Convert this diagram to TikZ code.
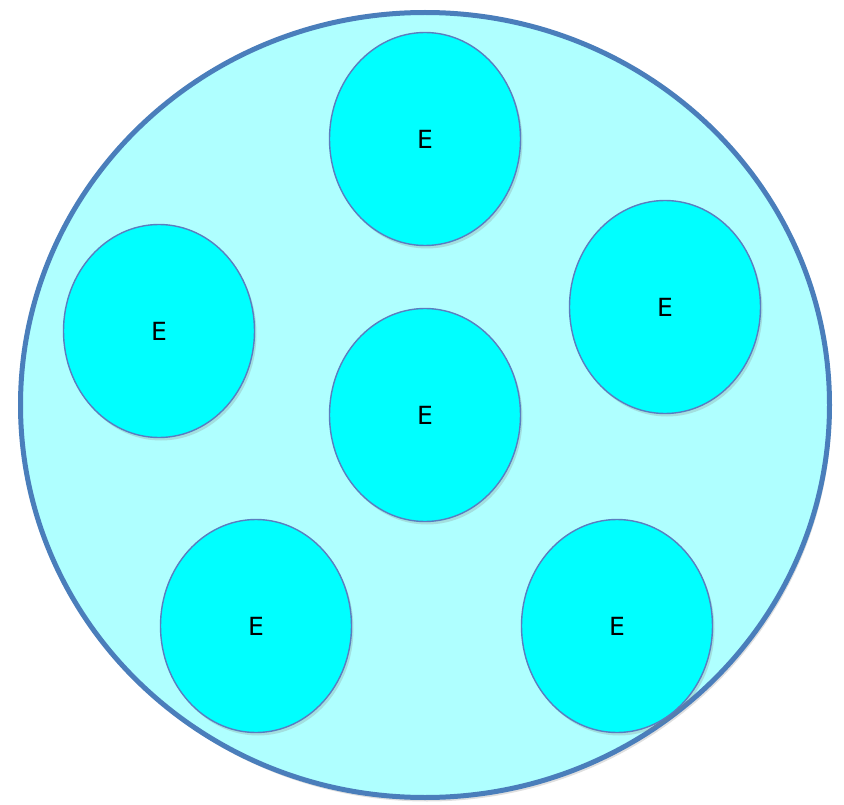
\documentclass[tikz,border=0pt]{standalone}
\usepackage{fontspec}
\setmainfont{DejaVu Sans}
\usetikzlibrary{shapes.geometric,shadows}
\definecolor{bigfill}{HTML}{AFFFFF}
\definecolor{bigline}{HTML}{4A7EBB}
\definecolor{smallfill}{HTML}{00FFFF}
\definecolor{smallline}{HTML}{5A7DC0}
\tikzset{
  outer/.style={ellipse, draw=bigline, fill=bigfill, line width=5pt, minimum width=809pt, minimum height=785pt, inner sep=0pt,
    drop shadow={opacity=0.25, shadow xshift=2pt, shadow yshift=-4pt}},
  cell/.style={ellipse, draw=smallline, fill=smallfill, line width=1.4pt, minimum width=191pt, minimum height=213pt, inner sep=0pt,
    font=\fontsize{25}{29}\selectfont,
    drop shadow={opacity=0.25, shadow xshift=2pt, shadow yshift=-3pt}}
}
\begin{document}
\begin{tikzpicture}[x=1pt,y=-1pt]
\useasboundingbox (0,0) rectangle (844,805);
\node[outer] (big) at (425,405) {};
\node[cell] (top) at (425,139) {E};
\node[cell] (left) at (159,331) {E};
\node[cell] (right) at (665,307) {E};
\node[cell] (mid) at (425,415) {E};
\node[cell] (bl) at (256,626) {E};
\node[cell] (br) at (617,626) {E};
\end{tikzpicture}
\end{document}
